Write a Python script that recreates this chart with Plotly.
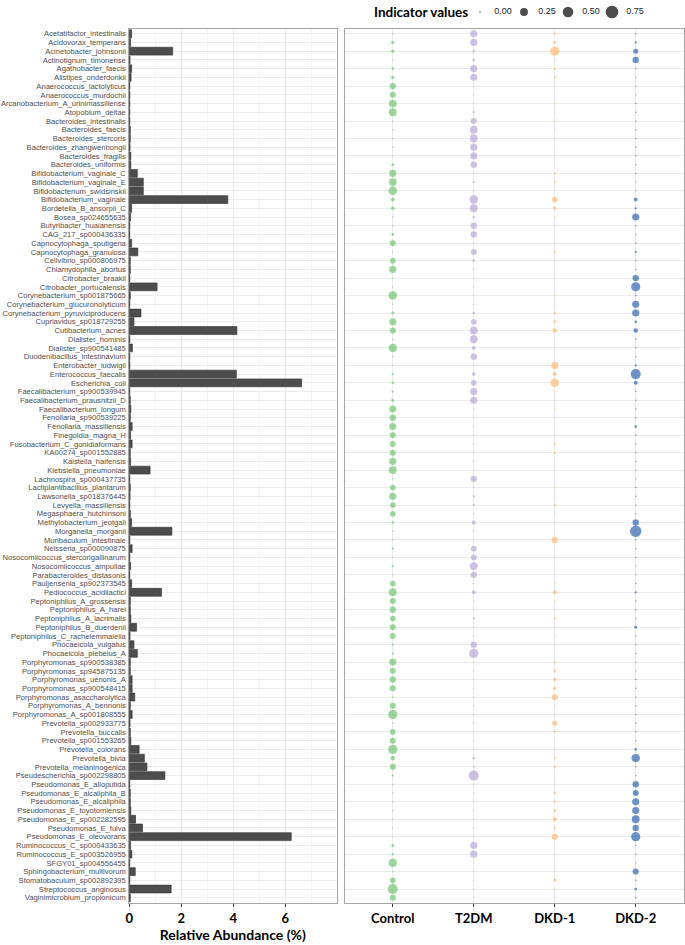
import numpy as np
import plotly.graph_objects as go

species = [
    "Acetatifactor_intestinalis", "Acidovorax_temperans", "Acinetobacter_johnsonii",
    "Actinotignum_timonense", "Agathobacter_faecis", "Alistipes_onderdonkii",
    "Anaerococcus_lactolyticus", "Anaerococcus_murdochii", "Arcanobacterium_A_urinimassiliense",
    "Atopobium_deltae", "Bacteroides_intestinalis", "Bacteroides_faecis",
    "Bacteroides_stercoris", "Bacteroides_zhangwenhongii", "Bacteroides_fragilis",
    "Bacteroides_uniformis", "Bifidobacterium_vaginale_C", "Bifidobacterium_vaginale_E",
    "Bifidobacterium_swidsinskii", "Bifidobacterium_vaginale", "Bordetella_B_ansorpii_C",
    "Bosea_sp024655635", "Butyribacter_huaianensis", "CAG_217_sp000436335",
    "Capnocytophaga_sputigena", "Capnocytophaga_granulosa", "Cellvibrio_sp000806975",
    "Chlamydophila_abortus", "Citrobacter_braakii", "Citrobacter_portucalensis",
    "Corynebacterium_sp001875665", "Corynebacterium_glucuronolyticum",
    "Corynebacterium_pyruviciproducens", "Cupriavidus_sp018729255", "Cutibacterium_acnes",
    "Dialister_hominis", "Dialister_sp900541485", "Duodenibacillus_intestinavium",
    "Enterobacter_ludwigii", "Enterococcus_faecalis", "Escherichia_coli",
    "Faecalibacterium_sp900539945", "Faecalibacterium_prausnitzii_D", "Faecalibacterium_longum",
    "Fenollaria_sp900539225", "Fenollaria_massiliensis", "Finegoldia_magna_H",
    "Fusobacterium_C_gonidiaformans", "KA00274_sp001552885", "Kaistella_haifensis",
    "Klebsiella_pneumoniae", "Lachnospira_sp000437735", "Lactiplantibacillus_plantarum",
    "Lawsonella_sp018376445", "Levyella_massiliensis", "Megasphaera_hutchinsoni",
    "Methylobacterium_jeotgali", "Morganella_morganii", "Muribaculum_intestinale",
    "Neisseria_sp000090875", "Nosocomiicoccus_stercorigallinarum", "Nosocomiicoccus_ampullae",
    "Parabacteroides_distasonis", "Pauljensenia_sp902373545", "Pediococcus_acidilactici",
    "Peptoniphilus_A_grossensis", "Peptoniphilus_A_harei", "Peptoniphilus_A_lacrimalis",
    "Peptoniphilus_B_duerdenii", "Peptoniphilus_C_rachelemmaiella", "Phocaeicola_vulgatus",
    "Phocaeicola_plebeius_A", "Porphyromonas_sp900538385", "Porphyromonas_sp945875135",
    "Porphyromonas_uenonis_A", "Porphyromonas_sp900548415", "Porphyromonas_asaccharolytica",
    "Porphyromonas_A_bennonis", "Porphyromonas_A_sp001808555", "Prevotella_sp002933775",
    "Prevotella_buccalis", "Prevotella_sp001553265", "Prevotella_colorans",
    "Prevotella_bivia", "Prevotella_melaninogenica", "Pseudescherichia_sp002298805",
    "Pseudomonas_E_alloputida", "Pseudomonas_E_alcaliphila_B", "Pseudomonas_E_alcaliphila",
    "Pseudomonas_E_toyotomiensis", "Pseudomonas_E_sp002282595", "Pseudomonas_E_fulva",
    "Pseudomonas_E_oleovorans", "Ruminococcus_C_sp000433635", "Ruminococcus_E_sp003526955",
    "SFGY01_sp004556455", "Sphingobacterium_multivorum", "Stomatobaculum_sp002892395",
    "Streptococcus_anginosus", "Vaginimicrobium_propionicum",
]

abundance = [
    0.09, 0.05, 1.67, 0.03, 0.09, 0.07, 0.02, 0.02, 0.02, 0.02,
    0.02, 0.04, 0.04, 0.03, 0.06, 0.06, 0.31, 0.54, 0.54, 3.79,
    0.09, 0.05, 0.02, 0.02, 0.09, 0.33, 0.04, 0.04, 0.02, 1.07,
    0.04, 0.02, 0.45, 0.18, 4.14, 0.02, 0.12, 0.02, 0.02, 4.12,
    6.63, 0.02, 0.04, 0.06, 0.04, 0.11, 0.05, 0.11, 0.04, 0.05,
    0.80, 0.02, 0.04, 0.03, 0.02, 0.04, 0.09, 1.64, 0.02, 0.11,
    0.02, 0.05, 0.02, 0.09, 1.24, 0.04, 0.04, 0.06, 0.28, 0.03,
    0.18, 0.31, 0.04, 0.04, 0.11, 0.11, 0.21, 0.04, 0.11, 0.03,
    0.04, 0.06, 0.38, 0.58, 0.68, 1.37, 0.02, 0.04, 0.04, 0.06,
    0.24, 0.51, 6.23, 0.05, 0.10, 0.02, 0.23, 0.02, 1.61, 0.04,
]

groups = ["Control", "T2DM", "DKD-1", "DKD-2"]

iv_control = [
    0, 0.02, 0.02, 0, 0.01, 0.02, 0.15, 0.13, 0.25, 0.25,
    0, 0, 0, 0, 0, 0.015, 0.2, 0.25, 0.3, 0.04,
    0.03, 0, 0, 0.01, 0.13, 0, 0.11, 0.2, 0, 0,
    0.3, 0, 0.015, 0.2, 0.13, 0, 0.3, 0, 0, 0.005,
    0.01, 0.005, 0.02, 0.2, 0.15, 0.2, 0.13, 0.13, 0.13, 0.2,
    0.25, 0, 0.11, 0.2, 0.11, 0.11, 0.01, 0, 0, 0.005,
    0, 0.005, 0, 0.11, 0.25, 0.13, 0.15, 0.11, 0.13, 0.13,
    0.005, 0.005, 0.2, 0.13, 0.15, 0.13, 0, 0.13, 0.37, 0,
    0.11, 0.13, 0.37, 0.06, 0.13, 0.005, 0, 0, 0, 0,
    0, 0, 0, 0.015, 0.005, 0.3, 0, 0.11, 0.45, 0.13,
]
iv_t2dm = [
    0.2, 0.2, 0.01, 0.01, 0.2, 0.2, 0, 0, 0, 0.005,
    0.13, 0.25, 0.25, 0.2, 0.2, 0.15, 0, 0.005, 0, 0.3,
    0.25, 0.005, 0.15, 0.15, 0, 0.13, 0.01, 0, 0, 0,
    0, 0, 0.01, 0.11, 0.25, 0.25, 0.04, 0.15, 0, 0.03,
    0.11, 0.2, 0.2, 0, 0, 0, 0, 0, 0, 0,
    0, 0.15, 0, 0.005, 0.005, 0, 0.04, 0, 0, 0.11,
    0.11, 0.25, 0.15, 0, 0.04, 0, 0, 0.005, 0, 0,
    0.15, 0.37, 0, 0, 0, 0, 0, 0, 0, 0,
    0, 0, 0, 0.01, 0.005, 0.45, 0, 0, 0, 0,
    0, 0, 0, 0.2, 0.2, 0, 0, 0, 0, 0,
]
iv_dkd1 = [
    0.01, 0.01, 0.37, 0, 0.01, 0.005, 0, 0, 0, 0,
    0, 0, 0, 0, 0, 0, 0.005, 0.005, 0, 0.11,
    0.03, 0, 0, 0, 0, 0.005, 0, 0, 0, 0,
    0, 0, 0.01, 0.015, 0.06, 0, 0, 0, 0.2, 0.04,
    0.3, 0, 0, 0, 0, 0, 0, 0.005, 0.01, 0,
    0, 0, 0, 0, 0.005, 0, 0, 0, 0.15, 0,
    0, 0, 0, 0, 0.04, 0, 0, 0.005, 0, 0,
    0, 0, 0.005, 0.01, 0.03, 0.02, 0.13, 0, 0, 0.08,
    0.005, 0, 0, 0.005, 0.01, 0, 0, 0.015, 0.01, 0.015,
    0.05, 0.005, 0.13, 0, 0, 0, 0, 0.015, 0, 0,
]
iv_dkd2 = [
    0, 0.005, 0.08, 0.15, 0, 0, 0, 0, 0, 0,
    0, 0, 0, 0, 0, 0, 0, 0, 0, 0.04,
    0.005, 0.2, 0, 0, 0, 0.005, 0, 0, 0.15, 0.37,
    0, 0.2, 0.2, 0.01, 0.06, 0, 0, 0, 0.005, 0.45,
    0.04, 0, 0, 0, 0, 0.01, 0, 0, 0, 0,
    0, 0, 0, 0, 0, 0, 0.15, 0.6, 0, 0,
    0, 0, 0, 0, 0.005, 0, 0, 0, 0.015, 0,
    0, 0, 0, 0, 0, 0, 0, 0, 0, 0,
    0, 0, 0.01, 0.3, 0, 0, 0.15, 0.13, 0.2, 0.2,
    0.25, 0.15, 0.37, 0, 0, 0, 0.13, 0, 0.01, 0,
]

legend_values = [0.0, 0.25, 0.5, 0.75]
legend_labels = ["0.00", "0.25", "0.50", "0.75"]

group_colors = ["#72C472", "#B9A7D8", "#FDBA74", "#2F65B1"]

W, H = 685, 945
LEG_PX_PER_UNIT = 176.0  # legend key spacing (0.25 -> 44 px)
LEG_X0 = 480.0           # pixel position of the 0.00 key


def dom_x(a, b):
    return [a / W, b / W]


def dom_y(top, bottom):
    return [1 - bottom / H, 1 - top / H]


def dot_size(v):
    return 1.4 + 11.2 * np.sqrt(np.asarray(v, dtype=float) / 0.75)


SANS = "Liberation Sans, Arial, sans-serif"
BOLD = dict(family="Lato, Open Sans, sans-serif", weight="bold", color="#000000")
GRID = "#ebebeb"
FRAME = "#a6a6a6"

fig = go.Figure()

fig.add_trace(go.Bar(
    x=abundance, y=species, orientation="h", width=0.9,
    marker=dict(color="#4d4d4d", line=dict(color="#2e2e2e", width=0.6)),
    xaxis="x", yaxis="y", showlegend=False,
))

for g, vals, col in zip(groups, [iv_control, iv_t2dm, iv_dkd1, iv_dkd2], group_colors):
    fig.add_trace(go.Scatter(
        x=[g] * len(species), y=species, mode="markers",
        marker=dict(size=dot_size(vals), color=col, line=dict(width=0)),
        xaxis="x2", yaxis="y2", showlegend=False,
    ))

# size key (legend) drawn on its own small axis
fig.add_trace(go.Scatter(
    x=legend_values, y=[0] * len(legend_values), mode="markers",
    marker=dict(size=dot_size(legend_values), color="#000000", line=dict(width=0)),
    xaxis="x3", yaxis="y3", showlegend=False, cliponaxis=False,
))
fig.add_trace(go.Scatter(
    x=[v + 23.0 / LEG_PX_PER_UNIT for v in legend_values], y=[0] * len(legend_values),
    mode="text", text=legend_labels, textposition="middle center",
    textfont=dict(family=SANS, size=9, color="#222222"),
    xaxis="x3", yaxis="y3", showlegend=False, cliponaxis=False,
))

ydom = dom_y(28.5, 903)
yrange = [len(species) - 0.4, -0.6]

fig.update_layout(
    width=W, height=H,
    margin=dict(l=0, r=0, t=0, b=0, autoexpand=False),
    paper_bgcolor="white", plot_bgcolor="white",
    xaxis=dict(
        domain=dom_x(128.5, 337), range=[-0.03, 7.99], automargin=False,
        tickvals=[0, 2, 4, 6], ticktext=["0", "2", "4", "6"],
        showgrid=True, gridcolor=GRID, gridwidth=1,
        minor=dict(dtick=1, tick0=0, showgrid=True, gridcolor="#f2f2f2", gridwidth=0.6),
        zeroline=False,
        showline=True, mirror=True, linecolor=FRAME, linewidth=1.3,
        ticks="outside", ticklen=3, tickcolor="#333333", tickwidth=1,
        tickfont=dict(size=13, **BOLD),
        title=dict(text="Relative Abundance (%)", font=dict(size=14, **BOLD), standoff=2),
    ),
    yaxis=dict(
        domain=ydom, type="category", categoryorder="array", categoryarray=species,
        tickmode="array", tickvals=species, ticktext=species,
        range=yrange, automargin=False,
        showgrid=True, gridcolor=GRID, gridwidth=1.2,
        showline=True, mirror=True, linecolor=FRAME, linewidth=1.3,
        ticks="", ticklen=0,
        tickfont=dict(family=SANS, size=7.6, color="#4d4d4d"),
        zeroline=False,
    ),
    xaxis2=dict(
        domain=dom_x(345, 683.5), type="category", categoryorder="array", categoryarray=groups,
        range=[-0.59, 3.59], automargin=False,
        showgrid=True, gridcolor=GRID, gridwidth=1,
        showline=True, mirror=True, linecolor=FRAME, linewidth=1.3,
        ticks="outside", ticklen=3, tickcolor="#333333", tickwidth=1,
        tickfont=dict(size=13, **BOLD),
        zeroline=False,
    ),
    yaxis2=dict(
        domain=ydom, type="category", categoryorder="array", categoryarray=species,
        range=yrange, anchor="x2", automargin=False,
        showgrid=True, gridcolor=GRID, gridwidth=1.2,
        showline=True, mirror=True, linecolor=FRAME, linewidth=1.3,
        showticklabels=False, ticks="",
        zeroline=False,
    ),
    xaxis3=dict(
        domain=dom_x(455, 685),
        range=[(455 - LEG_X0) / LEG_PX_PER_UNIT, (685 - LEG_X0) / LEG_PX_PER_UNIT],
        visible=False, fixedrange=True, automargin=False,
    ),
    yaxis3=dict(
        domain=dom_y(0, 24), range=[-1, 1], visible=False, anchor="x3",
        fixedrange=True, automargin=False,
    ),
    annotations=[dict(
        text="Indicator values", xref="paper", yref="paper",
        x=421 / W, y=1 - 12 / H, xanchor="center", yanchor="middle",
        showarrow=False, font=dict(size=13.5, **BOLD),
    )],
)

fig.write_html(
    "out.html",
    config={"displayModeBar": False},
    post_script="document.body.style.margin='0';document.body.style.overflow='hidden';",
)
